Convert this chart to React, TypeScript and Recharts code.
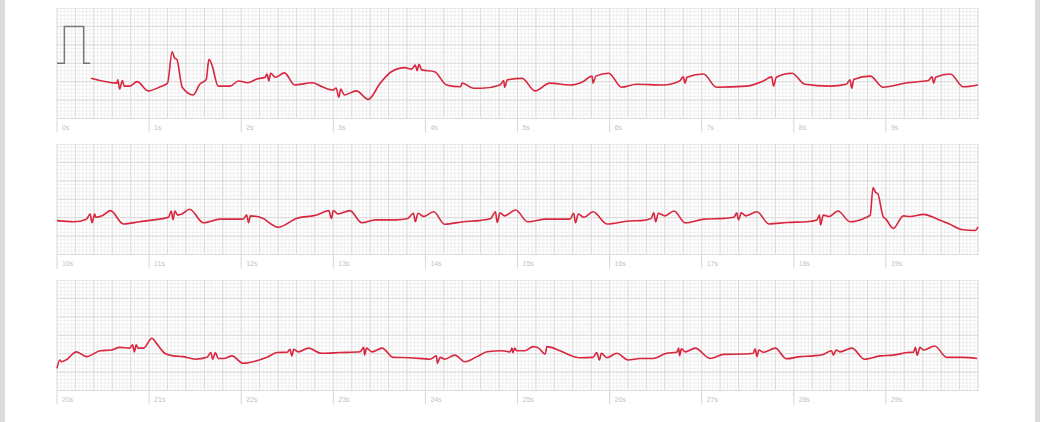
import { LineChart, Line, XAxis, YAxis, CartesianGrid } from 'recharts'

// ECG strip, three rows of 10 s each. t in seconds, mv in millivolts
const strip1: [number, number][] = [
  [0.37, -0.41], [0.65, -0.54], [0.66, -0.45], [0.68, -0.7], [0.71, -0.47], [0.73, -0.62],
  [0.79, -0.62], [0.87, -0.5], [0.99, -0.75], [1.12, -0.64], [1.2, -0.54], [1.25, 0.31],
  [1.28, 0.13], [1.3, 0.11], [1.36, -0.65], [1.48, -0.86], [1.55, -0.57], [1.62, -0.44],
  [1.65, 0.11], [1.68, -0.03], [1.75, -0.62], [1.88, -0.62], [1.97, -0.48], [2.07, -0.53],
  [2.17, -0.43], [2.26, -0.38], [2.28, -0.29], [2.3, -0.48], [2.32, -0.27], [2.37, -0.38],
  [2.47, -0.26], [2.58, -0.59], [2.77, -0.53], [2.88, -0.64], [3.0, -0.73], [3.03, -0.67],
  [3.06, -0.92], [3.08, -0.7], [3.12, -0.86], [3.25, -0.75], [3.38, -0.98], [3.51, -0.54],
  [3.63, -0.23], [3.78, -0.12], [3.85, -0.16], [3.89, -0.05], [3.91, -0.2], [3.93, -0.03],
  [3.96, -0.18], [4.1, -0.23], [4.23, -0.59], [4.38, -0.64], [4.4, -0.54], [4.52, -0.68],
  [4.61, -0.68], [4.81, -0.59], [4.85, -0.47], [4.86, -0.65], [4.89, -0.45], [5.05, -0.41],
  [5.19, -0.75], [5.35, -0.54], [5.57, -0.59], [5.71, -0.5], [5.81, -0.35], [5.82, -0.54],
  [5.85, -0.35], [5.99, -0.27], [6.13, -0.65], [6.29, -0.57], [6.58, -0.59], [6.76, -0.48],
  [6.8, -0.37], [6.82, -0.54], [6.84, -0.38], [7.02, -0.29], [7.16, -0.65], [7.49, -0.62],
  [7.67, -0.48], [7.76, -0.37], [7.78, -0.62], [7.81, -0.38], [7.98, -0.27], [8.12, -0.57],
  [8.39, -0.62], [8.57, -0.57], [8.61, -0.45], [8.63, -0.68], [8.65, -0.44], [8.83, -0.35],
  [8.97, -0.65], [9.23, -0.53], [9.46, -0.47], [9.5, -0.37], [9.52, -0.54], [9.54, -0.38],
  [9.7, -0.29], [9.84, -0.64], [10.0, -0.59],
]

const strip2: [number, number][] = [
  [10.0, -0.58], [10.18, -0.61], [10.32, -0.54], [10.36, -0.4], [10.38, -0.64], [10.41, -0.4],
  [10.42, -0.49], [10.49, -0.45], [10.58, -0.31], [10.72, -0.67], [10.9, -0.61], [11.05, -0.56],
  [11.21, -0.49], [11.24, -0.32], [11.26, -0.56], [11.28, -0.32], [11.31, -0.43], [11.35, -0.41],
  [11.44, -0.27], [11.59, -0.64], [11.77, -0.54], [12.02, -0.54], [12.06, -0.43], [12.08, -0.64],
  [12.1, -0.45], [12.24, -0.52], [12.31, -0.65], [12.4, -0.76], [12.6, -0.52], [12.82, -0.43],
  [12.95, -0.31], [12.98, -0.52], [13.0, -0.31], [13.05, -0.4], [13.18, -0.31], [13.31, -0.64],
  [13.46, -0.56], [13.68, -0.56], [13.81, -0.52], [13.87, -0.38], [13.89, -0.61], [13.92, -0.38],
  [13.98, -0.47], [14.09, -0.34], [14.21, -0.68], [14.41, -0.61], [14.58, -0.58], [14.71, -0.52],
  [14.76, -0.34], [14.78, -0.63], [14.81, -0.37], [14.86, -0.45], [14.98, -0.29], [15.11, -0.61],
  [15.31, -0.54], [15.57, -0.54], [15.61, -0.38], [15.63, -0.64], [15.66, -0.4], [15.72, -0.49],
  [15.82, -0.34], [15.97, -0.67], [16.21, -0.59], [16.34, -0.58], [16.45, -0.52], [16.48, -0.37],
  [16.5, -0.61], [16.53, -0.38], [16.6, -0.45], [16.7, -0.32], [16.82, -0.64], [17.03, -0.54],
  [17.24, -0.52], [17.35, -0.49], [17.38, -0.37], [17.4, -0.56], [17.43, -0.37], [17.48, -0.45],
  [17.6, -0.34], [17.73, -0.67], [17.93, -0.63], [18.14, -0.61], [18.25, -0.56], [18.28, -0.43],
  [18.29, -0.7], [18.32, -0.43], [18.38, -0.47], [18.48, -0.32], [18.61, -0.61], [18.76, -0.52],
  [18.83, -0.43], [18.86, 0.32], [18.89, 0.18], [18.91, 0.16], [18.97, -0.47], [19.0, -0.54],
  [19.08, -0.79], [19.19, -0.45], [19.26, -0.47], [19.41, -0.41], [19.56, -0.54], [19.69, -0.67],
  [19.82, -0.82], [19.97, -0.85], [20.0, -0.75],
]

const strip3: [number, number][] = [
  [20.0, -0.9], [20.03, -0.67], [20.05, -0.72], [20.11, -0.65], [20.21, -0.45], [20.32, -0.58],
  [20.47, -0.42], [20.59, -0.4], [20.68, -0.33], [20.79, -0.35], [20.82, -0.26], [20.84, -0.45],
  [20.86, -0.26], [20.88, -0.35], [20.94, -0.35], [21.03, -0.08], [21.08, -0.22], [21.17, -0.49],
  [21.26, -0.56], [21.37, -0.58], [21.5, -0.65], [21.63, -0.6], [21.67, -0.47], [21.69, -0.65],
  [21.72, -0.47], [21.75, -0.63], [21.81, -0.63], [21.9, -0.56], [22.02, -0.76], [22.17, -0.69],
  [22.28, -0.6], [22.39, -0.47], [22.5, -0.46], [22.53, -0.38], [22.55, -0.56], [22.57, -0.38],
  [22.62, -0.45], [22.73, -0.35], [22.87, -0.49], [23.07, -0.47], [23.29, -0.45], [23.33, -0.33],
  [23.34, -0.54], [23.36, -0.35], [23.42, -0.45], [23.53, -0.35], [23.65, -0.6], [23.83, -0.61],
  [24.05, -0.65], [24.12, -0.56], [24.13, -0.76], [24.16, -0.6], [24.21, -0.65], [24.32, -0.54],
  [24.43, -0.72], [24.56, -0.58], [24.67, -0.45], [24.83, -0.42], [24.92, -0.45], [24.94, -0.35],
  [24.95, -0.47], [24.97, -0.35], [24.99, -0.42], [25.08, -0.42], [25.17, -0.31], [25.23, -0.35],
  [25.3, -0.51], [25.32, -0.31], [25.46, -0.42], [25.57, -0.54], [25.68, -0.61], [25.82, -0.6],
  [25.86, -0.47], [25.89, -0.67], [25.91, -0.49], [25.97, -0.61], [26.08, -0.49], [26.2, -0.67],
  [26.33, -0.63], [26.47, -0.63], [26.62, -0.49], [26.73, -0.46], [26.75, -0.35], [26.76, -0.56],
  [26.78, -0.37], [26.82, -0.45], [26.93, -0.35], [27.09, -0.63], [27.24, -0.52], [27.45, -0.51],
  [27.56, -0.49], [27.58, -0.37], [27.6, -0.58], [27.62, -0.4], [27.67, -0.46], [27.8, -0.35],
  [27.92, -0.64], [28.07, -0.58], [28.21, -0.56], [28.32, -0.52], [28.41, -0.42], [28.43, -0.54],
  [28.46, -0.4], [28.5, -0.45], [28.63, -0.35], [28.77, -0.65], [28.94, -0.56], [29.08, -0.54],
  [29.23, -0.47], [29.3, -0.46], [29.32, -0.33], [29.34, -0.54], [29.37, -0.33], [29.41, -0.4],
  [29.53, -0.29], [29.66, -0.6], [29.84, -0.6], [29.99, -0.63],
]

// 1 mV calibration pulse at the start of the first row
const calPulse: [number, number][] = [
  [0, 0], [0.08, 0], [0.08, 1.0], [0.29, 1.0], [0.29, 0], [0.36, 0],
]

const rowStarts = [0, 10, 20]
const rowTops = [8, 144, 280]
const Y_DOMAIN: [number, number] = [-1.5, 1.5]

const toPoints = (rows: [number, number][]) => rows.map(([t, mv]) => ({ t, mv }))

const steps = (lo: number, hi: number, step: number) =>
  Array.from({ length: Math.round((hi - lo) / step) + 1 }, (_, i) => Math.round((lo + i * step) * 100) / 100)

// grid lines placed with the axis scales (paper: 0.04 s / 0.1 mV small boxes, 0.2 s / 0.5 mV big boxes)
const xGrid = (lo: number, hi: number, step: number) => ({ xAxis, offset }: any) => {
  const vals = steps(lo, hi, step)
  if (xAxis && typeof xAxis.scale === 'function') return vals.map((v) => xAxis.scale(v))
  return vals.map((v) => offset.left + ((v - lo) / (hi - lo)) * offset.width)
}
const yGrid = (step: number) => ({ yAxis, offset }: any) => {
  const [lo, hi] = Y_DOMAIN
  const vals = steps(lo, hi, step)
  if (yAxis && typeof yAxis.scale === 'function') return vals.map((v) => yAxis.scale(v))
  return vals.map((v) => offset.top + ((hi - v) / (hi - lo)) * offset.height)
}

const SecondTick = (props: any) => {
  const { x, y, payload } = props
  return (
    <text x={x + 5} y={y - 5} fontSize={7} fill="#c2c2c2" fontFamily="Arial, sans-serif">
      {payload.value}s
    </text>
  )
}

function Strip({ start, top, data, showCal }: { start: number; top: number; data: [number, number][]; showCal: boolean }) {
  const lo = start
  const hi = start + 10
  return (
    <div style={{ position: 'absolute', left: 0, top }}>
      <LineChart width={1040} height={140.5} data={toPoints(data)} margin={{ top: 0, right: 62, bottom: 0, left: 57 }}>
        <CartesianGrid
          stroke="#ececec"
          strokeWidth={0.8}
          verticalCoordinatesGenerator={xGrid(lo, hi, 0.04)}
          horizontalCoordinatesGenerator={yGrid(0.1)}
        />
        <CartesianGrid
          stroke="#d6d6d6"
          strokeWidth={0.8}
          verticalCoordinatesGenerator={xGrid(lo, hi, 0.2)}
          horizontalCoordinatesGenerator={yGrid(0.5)}
        />
        <XAxis
          dataKey="t"
          type="number"
          domain={[lo, hi]}
          ticks={steps(lo, hi - 1, 1)}
          interval={0}
          height={30}
          axisLine={false}
          tickSize={14}
          tickLine={{ stroke: '#d6d6d6' }}
          tick={<SecondTick />}
        />
        <YAxis type="number" domain={Y_DOMAIN} hide />
        {showCal && (
          <Line data={toPoints(calPulse)} dataKey="mv" type="linear" stroke="#777" strokeWidth={1.5} dot={false} isAnimationActive={false} />
        )}
        <Line dataKey="mv" type="monotone" stroke="#d7263d" strokeWidth={1.6} dot={false} isAnimationActive={false} />
      </LineChart>
    </div>
  )
}

const strips = [strip1, strip2, strip3]

export default function App() {
  return (
    <div style={{ position: 'absolute', left: 0, top: 0, width: 1040, height: 422, background: '#fff', overflow: 'hidden' }}>
      <div style={{ position: 'absolute', left: 0, top: 0, width: 5, height: 422, background: '#dcdcdc' }} />
      <div style={{ position: 'absolute', left: 1035, top: 0, width: 5, height: 422, background: '#dcdcdc' }} />
      {rowStarts.map((s, i) => (
        <Strip key={s} start={s} top={rowTops[i]} data={strips[i]} showCal={i === 0} />
      ))}
    </div>
  )
}
